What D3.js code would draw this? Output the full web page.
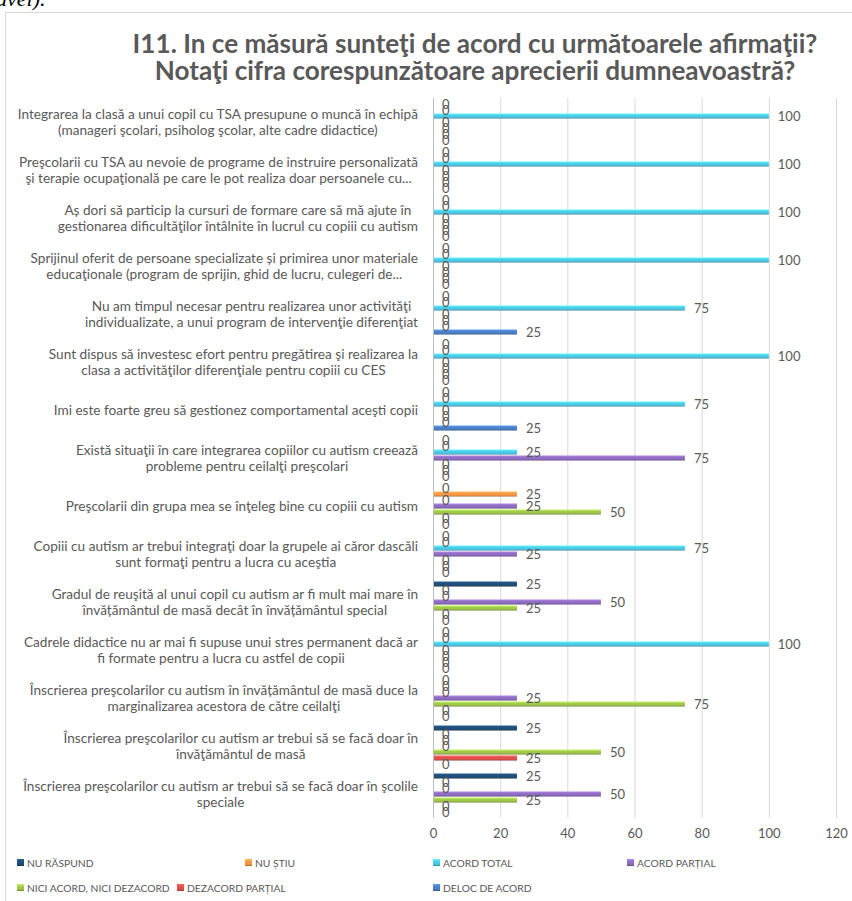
<!DOCTYPE html>
<html>
<head>
<meta charset="utf-8">
<script src="https://cdn.jsdelivr.net/npm/d3@7"></script>
<style>
  body { margin: 0; background: #fff; }
  text { font-family: Lato, "Open Sans", sans-serif; fill: #595959; }
  .gridline { stroke: #d9d9d9; stroke-width: 1; }
</style>
</head>
<body>
<svg id="chart"></svg>
<script>
// SVG size params
var width = 852;
var height = 901;

// Statements, top to bottom (already wrapped as in the original)
var categories = [
  ["Integrarea la clasă a unui copil cu TSA presupune o muncă în echipă", "(manageri şcolari, psiholog şcolar, alte cadre didactice)"],
  ["Preşcolarii cu TSA au nevoie de programe de instruire personalizată", "şi terapie ocupaţională pe care le pot realiza doar persoanele cu..."],
  ["Aș dori să particip la cursuri de formare care să mă ajute în", "gestionarea dificultăţilor întâlnite în lucrul cu copiii cu autism"],
  ["Sprijinul oferit de persoane specializate și primirea unor materiale", "educaţionale (program de sprijin, ghid de lucru, culegeri de..."],
  ["Nu am timpul necesar pentru realizarea unor activităţi", "individualizate, a unui program de intervenţie diferenţiat"],
  ["Sunt dispus să investesc efort pentru pregătirea şi realizarea la", "clasa a activităţilor diferenţiale pentru copiii cu CES"],
  ["Imi este foarte greu să gestionez comportamental aceşti copii"],
  ["Există situaţii în care integrarea copiilor cu autism creează", "probleme pentru ceilalţi  preşcolari"],
  ["Preşcolarii din grupa mea se înţeleg  bine cu copiii cu autism"],
  ["Copiii cu autism ar trebui integraţi doar la grupele ai căror dascăli", "sunt formaţi pentru a lucra cu aceştia"],
  ["Gradul de reuşită al unui copil cu autism ar fi mult mai mare  în", "învățământul de masă decât în învățământul special"],
  ["Cadrele didactice nu ar mai fi supuse unui stres permanent dacă ar", "fi formate pentru a lucra cu astfel de copii"],
  ["Înscrierea preşcolarilor cu autism în învățământul de masă duce la", "marginalizarea acestora de către ceilalţi"],
  ["Înscrierea preşcolarilor cu autism ar trebui să se facă doar în", "învăţământul de masă"],
  ["Înscrierea preşcolarilor cu autism ar trebui să se facă doar în şcolile", "speciale"]
];

// Series names and values (one value per statement)
var seriesNames = ["NU RĂSPUND", "NU ȘTIU", "ACORD TOTAL", "ACORD PARȚIAL",
                   "NICI ACORD, NICI DEZACORD", "DEZACORD PARȚIAL", "DELOC DE ACORD"];
var nuRaspund   = [0, 0, 0, 0, 0, 0, 0, 0, 0, 0, 25, 0, 0, 25, 25];
var nuStiu      = [0, 0, 0, 0, 0, 0, 0, 0, 25, 0, 0, 0, 0, 0, 0];
var acordTotal  = [100, 100, 100, 100, 75, 100, 75, 25, 0, 75, 0, 100, 0, 0, 0];
var acordPartial = [0, 0, 0, 0, 0, 0, 0, 75, 25, 25, 50, 0, 25, 0, 50];
var niciAcord   = [0, 0, 0, 0, 0, 0, 0, 0, 50, 0, 25, 0, 75, 50, 25];
var dezacordPartial = [0, 0, 0, 0, 0, 0, 0, 0, 0, 0, 0, 0, 0, 25, 0];
var delocDeAcord = [0, 0, 0, 0, 25, 0, 25, 0, 0, 0, 0, 0, 0, 0, 0];
var seriesValues = [nuRaspund, nuStiu, acordTotal, acordPartial, niciAcord, dezacordPartial, delocDeAcord];

var xTicks = [0, 20, 40, 60, 80, 100, 120];

var colors = ["#1f4e79", "#f79646", "#4cc9e6", "#8e6cc0", "#9fc64a", "#e0504d", "#4a7fc4"];

// Initiate SVG
var svg = d3.select("#chart")
            .attr("width", width)
            .attr("height", height);

// Bevelled bar gradients
var defs = svg.append("defs");
colors.forEach(function(c, i) {
  var g = defs.append("linearGradient")
      .attr("id", "grad" + i)
      .attr("x1", 0).attr("y1", 0).attr("x2", 0).attr("y2", 1);
  g.append("stop").attr("offset", "0%").attr("stop-color", d3.color(c).brighter(0.6));
  g.append("stop").attr("offset", "45%").attr("stop-color", c);
  g.append("stop").attr("offset", "75%").attr("stop-color", c);
  g.append("stop").attr("offset", "100%").attr("stop-color", d3.color(c).darker(1.2));
});

// Fragment of the surrounding document, cut by the page top
svg.append("text")
    .attr("x", -4).attr("y", 6)
    .style("font-family", "'Liberation Serif', serif")
    .style("font-style", "italic")
    .style("font-size", "22px")
    .style("fill", "#000")
    .text("ăvei).");

// Chart frame
svg.append("rect")
    .attr("x", 5.5).attr("y", 12.5)
    .attr("width", 1000).attr("height", 1000)
    .attr("fill", "none")
    .attr("stroke", "#d9d9d9");

// shrink/grow a text's font so that its widest line spans the given width
function fitFont(sel, target) {
  var w = d3.max(sel.nodes(), n => n.getComputedTextLength());
  var fs = parseFloat(sel.style("font-size"));
  return fs * target / w;
}

// Title
var title = svg.append("text")
    .attr("text-anchor", "middle")
    .style("font-weight", "bold")
    .style("font-size", "20px");
title.append("tspan").attr("x", 475).attr("y", 53)
    .text("I11. In ce măsură sunteţi de acord cu următoarele afirmaţii?");
title.append("tspan").attr("x", 475).attr("y", 80)
    .text("Notaţi cifra corespunzătoare aprecierii dumneavoastră?");
title.style("font-size", fitFont(title.selectAll("tspan"), 685) + "px");

// Scales
var plotLeft = 433, plotRight = 836, plotTop = 98, plotBottom = 818;
var x = d3.scaleLinear().domain([0, 120]).range([plotLeft, plotRight]);
var y = d3.scaleBand()
    .domain(d3.range(categories.length))
    .range([plotTop, plotBottom])
    .paddingInner(0.125).paddingOuter(0.0625);
var ySub = d3.scaleBand()
    .domain(d3.range(seriesNames.length))
    .range([0, y.bandwidth()]);

// Gridlines
svg.append("g")
    .attr("id", "gridLines")
  .selectAll("line")
    .data(xTicks)
  .enter().append("line")
    .attr("class", "gridline")
    .attr("x1", d => x(d) + 0.5).attr("x2", d => x(d) + 0.5)
    .attr("y1", plotTop).attr("y2", plotBottom);

// X axis labels
var xAxis = svg.append("g")
    .attr("transform", "translate(0," + (plotBottom + 4) + ")")
    .call(d3.axisBottom(x).tickValues(xTicks).tickSize(0).tickPadding(7));
xAxis.select(".domain").remove();
xAxis.selectAll("text").style("font-size", "13px").style("fill", "#595959");

// Category labels: lines centred in a block that sits right-aligned to the axis
var catG = svg.append("g").attr("id", "categories").style("font-size", "12.4px");
categories.forEach(function(lines, i) {
  var cy = y(i) + y.bandwidth() / 2;
  var lineH = 16;
  var t = catG.append("text")
      .attr("text-anchor", "middle");
  lines.forEach(function(l, j) {
    t.append("tspan")
        .attr("y", cy + (j - (lines.length - 1) / 2) * lineH + 4.5)
        .text(l);
  });
});
catG.style("font-size", fitFont(catG.select("tspan"), 400) + "px");
catG.selectAll("text").each(function() {
  var spans = d3.select(this).selectAll("tspan");
  var maxW = d3.max(spans.nodes(), n => n.getComputedTextLength());
  spans.attr("x", 418 - maxW / 2);
});

// Bars
var rows = [];
categories.forEach(function(c, i) {
  seriesValues.forEach(function(vals, s) {
    rows.push({ cat: i, series: s, value: vals[i] });
  });
});

svg.append("g")
    .attr("id", "bars")
  .selectAll("rect")
    .data(rows.filter(d => d.value > 0))
  .enter().append("rect")
    .attr("x", x(0))
    .attr("y", d => y(d.cat) + ySub(d.series) + 0.5)
    .attr("width", d => x(d.value) - x(0))
    .attr("height", ySub.bandwidth() - 1)
    .attr("fill", d => "url(#grad" + d.series + ")");

// Axis line
svg.append("line")
    .attr("x1", plotLeft + 0.5).attr("x2", plotLeft + 0.5)
    .attr("y1", plotTop).attr("y2", plotBottom)
    .attr("stroke", "#bfbfbf");

// Data labels
svg.append("g")
    .attr("id", "labels")
  .selectAll("text")
    .data(rows)
  .enter().append("text")
    .attr("x", d => x(d.value) + 9)
    .attr("y", d => y(d.cat) + ySub(d.series) + ySub.bandwidth() / 2 + 4.5)
    .style("font-size", "13px")
    .text(d => d.value);

// Legend
var legendPos = [[17, 863], [245, 863], [433, 863], [627, 863], [17, 888], [177, 888], [433, 888]];
var legend = svg.append("g").attr("id", "legend")
  .selectAll("g")
    .data(seriesNames)
  .enter().append("g")
    .attr("transform", (d, i) => "translate(" + legendPos[i][0] + "," + legendPos[i][1] + ")");
legend.append("rect")
    .attr("x", 0).attr("y", -4)
    .attr("width", 7).attr("height", 7)
    .attr("fill", (d, i) => "url(#grad" + i + ")");
legend.append("text")
    .attr("x", 10).attr("y", 4)
    .style("font-size", "10.3px")
    .text(d => d);
</script>
</body>
</html>
